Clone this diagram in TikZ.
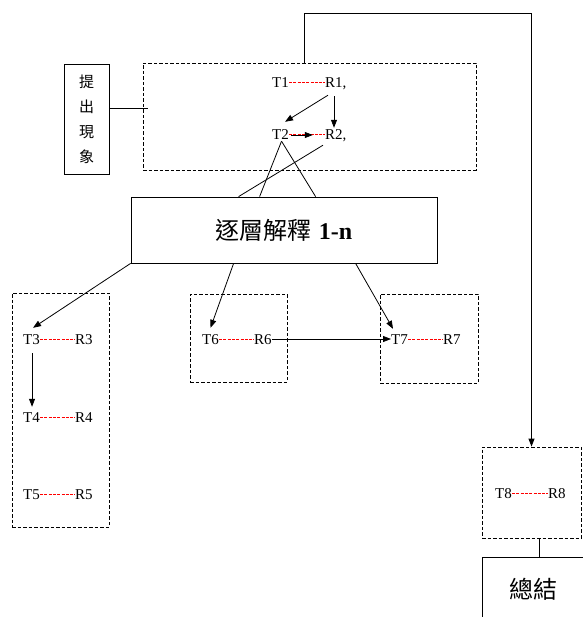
\documentclass[tikz,border=0pt]{standalone}
\usepackage{fontspec}
\setmainfont{Liberation Serif}
\newfontfamily\cjk{Noto Sans CJK TC}
\usetikzlibrary{arrows.meta,calc}
\tikzset{
  tr/.style={inner sep=0pt, text height=10pt, text depth=0pt, font=\fontsize{15}{18}\selectfont, anchor=west},
  dbox/.style={draw, dash pattern=on 3.5pt off 2pt, line width=0.8pt, inner sep=0pt},
  sbox/.style={draw, line width=0.8pt, inner sep=0pt},
  arr/.style={-{Triangle[length=8pt,width=6pt]}, line width=0.8pt},
  ln/.style={line width=0.8pt},
  rd/.style={draw=red, line width=1pt, dash pattern=on 3pt off 1.3pt}
}
\begin{document}
\begin{tikzpicture}[x=1pt,y=-1pt]
\useasboundingbox (0,0) rectangle (582,617);
% boxes
\node[dbox, minimum width=333pt, minimum height=107pt] (big) at (309.5,116.5) {};
\node[sbox, minimum width=45pt, minimum height=110pt, align=center,
      font=\cjk\fontsize{15}{25}\selectfont] (phen) at (86.5,119) {提\\出\\現\\象};
\node[sbox, minimum width=306pt, minimum height=66pt] (lay) at (284,230)
      {{\cjk\fontsize{24}{28}\selectfont 逐層解釋}\hspace{7pt}{\fontsize{24}{28}\selectfont\bfseries 1-n}};
\node[dbox, minimum width=97pt, minimum height=234pt] (lbox) at (60.5,410) {};
\node[dbox, minimum width=97pt, minimum height=88pt] (mbox) at (238.5,338) {};
\node[dbox, minimum width=98pt, minimum height=89pt] (rbox) at (429,338.5) {};
\node[dbox, minimum width=99pt, minimum height=91pt] (tbox) at (531.5,492.5) {};
\node[sbox, minimum width=102pt, minimum height=64pt, anchor=north west,
      font=\cjk\fontsize{24}{28}\selectfont] (sum) at (482,557) {總結};
% T / R texts
\node[tr] (T1) at (272,83) {T1};
\node[tr] (R1) at (325,83) {R1,};
\node[tr] (T2) at (272,135) {T2};
\node[tr] (R2) at (325,135) {R2,};
\node[tr] (T3) at (23,339) {T3};
\node[tr] (R3) at (75,339) {R3};
\node[tr] (T4) at (23,417) {T4};
\node[tr] (R4) at (75,417) {R4};
\node[tr] (T5) at (23,494) {T5};
\node[tr] (R5) at (75,494) {R5};
\node[tr] (T6) at (202,339) {T6};
\node[tr] (R6) at (254,339) {R6};
\node[tr] (T7) at (391,339) {T7};
\node[tr] (R7) at (443,339) {R7};
\node[tr] (T8) at (495,493) {T8};
\node[tr] (R8) at (548,493) {R8};
% red dashed links
\draw[rd] (T1.east) -- (R1.west);
\draw[rd] (T2.east) -- (R2.west);
\draw[rd] (T3.east) -- (R3.west);
\draw[rd] (T4.east) -- (R4.west);
\draw[rd] (T5.east) -- (R5.west);
\draw[rd] (T6.east) -- (R6.west);
\draw[rd] (T7.east) -- (R7.west);
\draw[rd] (T8.east) -- (R8.west);
% arrows in top box
\draw[arr] ([shift={(3,7)}]R1.south west) -- ([shift={(-4,-8)}]T2.north east);
\draw[arr] ([shift={(9,8)}]R1.south west) -- ([shift={(9,-2)}]R2.north west);
\draw[arr] ([xshift=2pt]T2.east) -- ($(T2.east)!0.66!(R2.west)$);
% lines from T2 / R2 down to lay
\draw[ln] ([shift={(1,1)}]T2.south) -- ([xshift=129pt]lay.north west);
\draw[ln] ([shift={(1,1)}]T2.south) -- ([xshift=185pt]lay.north west);
\draw[ln] ([shift={(-2,5)}]R2.south west) -- ([xshift=108pt]lay.north west);
% arrows from lay
\draw[arr] (lay.south west) -- ([shift={(1.5,-6)}]T3.north);
\draw[arr] ([xshift=103pt]lay.south west) -- ([shift={(0,-6)}]T6.north);
\draw[arr] ([xshift=225pt]lay.south west) -- ([shift={(2,-5)}]T7.north west);
\draw[arr] ([shift={(0.5,9)}]T3.south) -- ([shift={(0.5,-5)}]T4.north);
\draw[arr] (R6.east) -- (T7.west);
% side / top connectors
\draw[ln] ([yshift=11pt]phen.east) -- ++(39,0);
\draw[arr] ([xshift=-5.5pt]big.north) -- ++(0,-49) -| (tbox.north);
\draw[ln] ([xshift=7.5pt]tbox.south) -- ([xshift=7.5pt]tbox.south |- sum.north);
\end{tikzpicture}
\end{document}
